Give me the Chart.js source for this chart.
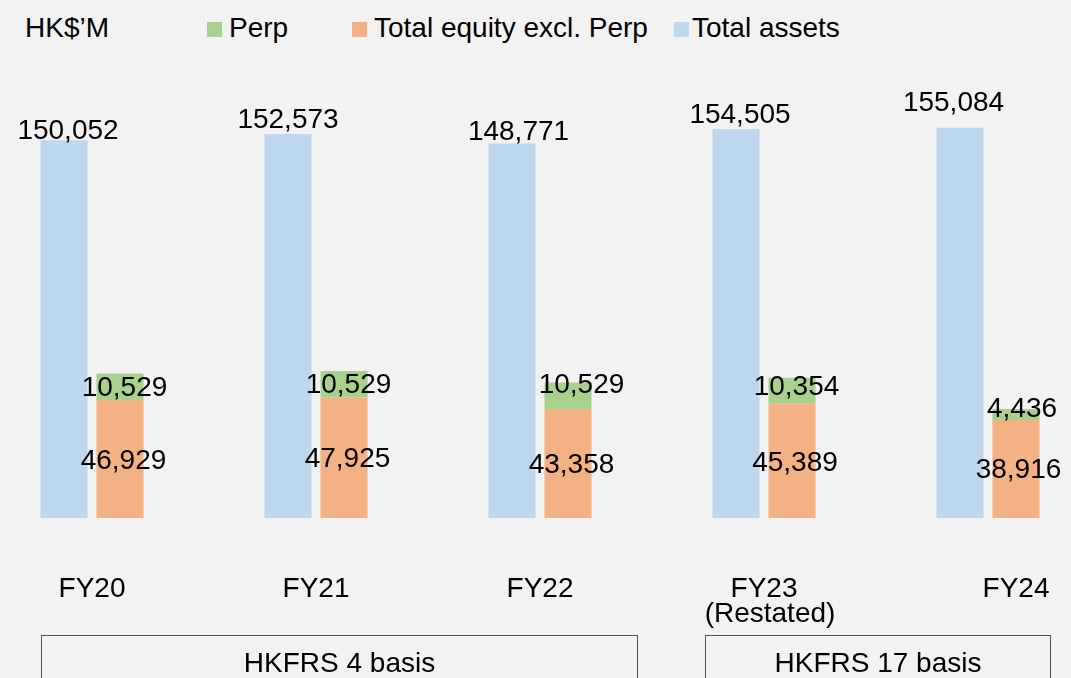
<!DOCTYPE html>
<html>
<head>
<meta charset="utf-8">
<title>Total assets and equity</title>
<script src="https://cdn.jsdelivr.net/npm/chart.js@4.4.1/dist/chart.umd.min.js"></script>
<style>
  html, body { margin: 0; padding: 0; }
  body {
    width: 1071px; height: 678px; overflow: hidden; position: relative;
    background: #f2f2f2;
    font-family: "Liberation Sans", Arial, sans-serif; font-size: 28px; color: #000;
  }
  .chartBox { position: absolute; left: -20px; top: 0; width: 1120px; height: 678px; }
  .txt { position: absolute; top: 12px; line-height: 32px; white-space: nowrap; }
  .sq { position: absolute; top: 22px; width: 15px; height: 15px; }
  .basis {
    position: absolute; top: 635px; height: 80px; box-sizing: border-box;
    border: 1.5px solid #44546a; text-align: center; line-height: 32px; padding-top: 11px;
  }
</style>
</head>
<body>

<div class="txt" style="left:25px">HK$’M</div>
<div class="sq" style="left:207px;background:#a9d18e"></div>
<div class="txt" style="left:229px">Perp</div>
<div class="sq" style="left:352px;background:#f4b183"></div>
<div class="txt" style="left:374px">Total equity excl. Perp</div>
<div class="sq" style="left:674px;background:#bdd7ee"></div>
<div class="txt" style="left:692px">Total assets</div>

<div class="chartBox"><canvas id="myChart"></canvas></div>

<div class="basis" style="left:41px;width:597px">HKFRS 4 basis</div>
<div class="basis" style="left:705px;width:346px">HKFRS 17 basis</div>

<script>
var years = ['FY20', 'FY21', 'FY22', ['FY23', '(Restated)'], 'FY24'];
var totalAssets = [150052, 152573, 148771, 154505, 155084];
var equityExPerp = [46929, 47925, 43358, 45389, 38916];
var perp = [10529, 10529, 10529, 10354, 4436];

// label nudges [dx, dy] so the numbers sit where the original has them
var assetsShift = [[4, -9], [0, -14], [6.5, -11.5], [4, -14], [-6.5, -24.5]];
var perpShift = [[4.5, 1.5], [4.5, 1], [13.5, -10.5], [4.5, -3.5], [6, -5.5]];
var equityShift = [[3.5, 2], [3.5, 1.5], [3.5, 1.5], [3, 2.5], [2.5, 1]];
var tickShift = [0, 0, 0, 0, 28];

var labelFont = '28px "Liberation Sans", Arial, sans-serif';

var valueLabels = {
  id: 'valueLabels',
  afterDatasetsDraw: function(chart) {
    var ctx = chart.ctx;
    ctx.save();
    ctx.font = labelFont;
    ctx.fillStyle = '#000';
    ctx.textAlign = 'center';
    ctx.textBaseline = 'middle';
    chart.data.datasets.forEach(function(ds, d) {
      var meta = chart.getDatasetMeta(d);
      meta.data.forEach(function(bar, i) {
        var txt = ds.data[i].toLocaleString('en-US');
        var s = ds.shift[i];
        var y;
        if (ds.stack === 'assets') {
          y = bar.y + s[1];
        } else {
          y = (bar.y + bar.base) / 2 + s[1];
        }
        ctx.fillText(txt, bar.x + s[0], y);
      });
    });
    ctx.restore();
  }
};

var yearLabels = {
  id: 'yearLabels',
  afterDraw: function(chart) {
    var ctx = chart.ctx;
    var xs = chart.scales.x;
    ctx.save();
    ctx.font = labelFont;
    ctx.fillStyle = '#000';
    ctx.textAlign = 'center';
    ctx.textBaseline = 'middle';
    years.forEach(function(lab, i) {
      var lines = Array.isArray(lab) ? lab : [lab];
      var x = xs.getPixelForValue(i) + tickShift[i];
      lines.forEach(function(line, k) {
        var dx = k > 0 ? 6 : 0;
        ctx.fillText(line, x + dx, chart.chartArea.bottom + 71 + k * 25);
      });
    });
    ctx.restore();
  }
};

var ctx = document.getElementById('myChart').getContext('2d');
var myChart = new Chart(ctx, {
  type: 'bar',
  data: {
    labels: years,
    datasets: [{
      label: 'Total assets',
      data: totalAssets,
      stack: 'assets',
      backgroundColor: '#bdd7ee',
      shift: assetsShift
    }, {
      label: 'Total equity excl. Perp',
      data: equityExPerp,
      stack: 'equity',
      backgroundColor: '#f4b183',
      shift: equityShift
    }, {
      label: 'Perp',
      data: perp,
      stack: 'equity',
      backgroundColor: '#a9d18e',
      shift: perpShift
    }]
  },
  options: {
    responsive: true,
    maintainAspectRatio: false,
    animation: false,
    layout: { padding: { top: 65, bottom: 160, left: 0, right: 0 } },
    categoryPercentage: 0.5,
    barPercentage: 0.84,
    plugins: {
      legend: { display: false },
      tooltip: { enabled: false }
    },
    scales: {
      x: { display: false, stacked: true },
      y: { display: false, stacked: true, min: 0, max: 180000 }
    }
  },
  plugins: [valueLabels, yearLabels]
});
</script>
</body>
</html>
